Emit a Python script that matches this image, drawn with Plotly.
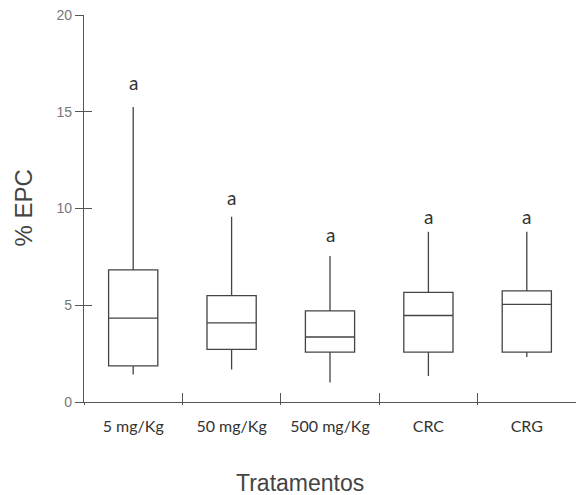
import plotly.graph_objects as go

categories = ["5 mg/Kg", "50 mg/Kg", "500 mg/Kg", "CRC", "CRG"]
lower_whisker = [1.42, 1.68, 1.01, 1.34, 2.33]
q1_values = [1.87, 2.72, 2.58, 2.58, 2.58]
median_values = [4.33, 4.09, 3.36, 4.47, 5.05]
q3_values = [6.83, 5.50, 4.71, 5.67, 5.74]
upper_whisker = [15.25, 9.57, 7.55, 8.80, 8.80]
group_letters = ["a", "a", "a", "a", "a"]
letter_y = [16.5, 10.55, 8.64, 9.6, 9.6]
y_ticks = [0, 5, 10, 15, 20]

AX = "#555555"
LINE = "#444444"

fig = go.Figure()
fig.add_trace(go.Box(
    x=categories, q1=q1_values, median=median_values, q3=q3_values,
    lowerfence=lower_whisker, upperfence=upper_whisker,
    width=0.5, whiskerwidth=0, fillcolor="white",
    line=dict(color=LINE, width=1.3), boxpoints=False,
    showlegend=False, hoverinfo="skip",
))
# invisible helper trace for the overlaid (inside-tick) axes
fig.add_trace(go.Scatter(
    x=categories, y=median_values, xaxis="x2", yaxis="y2",
    mode="markers", marker=dict(opacity=0), showlegend=False, hoverinfo="skip",
))

for c, t, yv in zip(categories, group_letters, letter_y):
    fig.add_annotation(x=c, y=yv, text=t, showarrow=False,
                       font=dict(family="Lato", size=19, color="#333"),
                       xanchor="center", yanchor="middle")

fig.add_annotation(xref="paper", yref="paper", x=0, y=0.5, xshift=-61,
                   text="% EPC", textangle=-90, showarrow=False,
                   font=dict(family="Liberation Sans", size=24, color="#444"),
                   xanchor="center", yanchor="middle")
fig.add_annotation(xref="paper", yref="paper", x=(300 - 84) / 492, y=0, yshift=-81,
                   text="Tratamentos", showarrow=False,
                   font=dict(family="Liberation Sans", size=23, color="#444"),
                   xanchor="center", yanchor="middle")

fig.update_layout(
    width=576, height=495,
    margin=dict(l=84, r=0, t=15, b=93),
    paper_bgcolor="white", plot_bgcolor="white",
    xaxis=dict(type="category", categoryorder="array", categoryarray=categories,
               range=[-0.5, 4.5], showline=True, linecolor=AX, linewidth=1.3,
               ticks="outside", ticklen=2, tickcolor=AX, tickwidth=1.3,
               tickson="boundaries", showgrid=False, zeroline=False,
               ticklabelstandoff=10,
               tickfont=dict(family="Lato", size=16, color="#333")),
    xaxis2=dict(type="category", categoryorder="array", categoryarray=categories,
                overlaying="x", anchor="y", range=[-0.5, 4.5], showline=False,
                ticks="inside", ticklen=9, tickcolor=AX, tickwidth=1.3,
                tickson="boundaries", showticklabels=False, showgrid=False,
                zeroline=False, side="bottom"),
    yaxis=dict(range=[0, 20], tickvals=y_ticks, showline=True, linecolor=AX,
               linewidth=1.3, ticks="outside", ticklen=8, tickcolor=AX,
               tickwidth=1.3, showgrid=False, zeroline=False,
               tickfont=dict(family="Liberation Sans", size=14, color="#777")),
    yaxis2=dict(range=[0, 20], tickvals=y_ticks, overlaying="y", anchor="x",
                side="left", showline=False, ticks="inside", ticklen=8,
                tickcolor=AX, tickwidth=1.3, showticklabels=False,
                showgrid=False, zeroline=False),
)

fig.write_html("out.html")
